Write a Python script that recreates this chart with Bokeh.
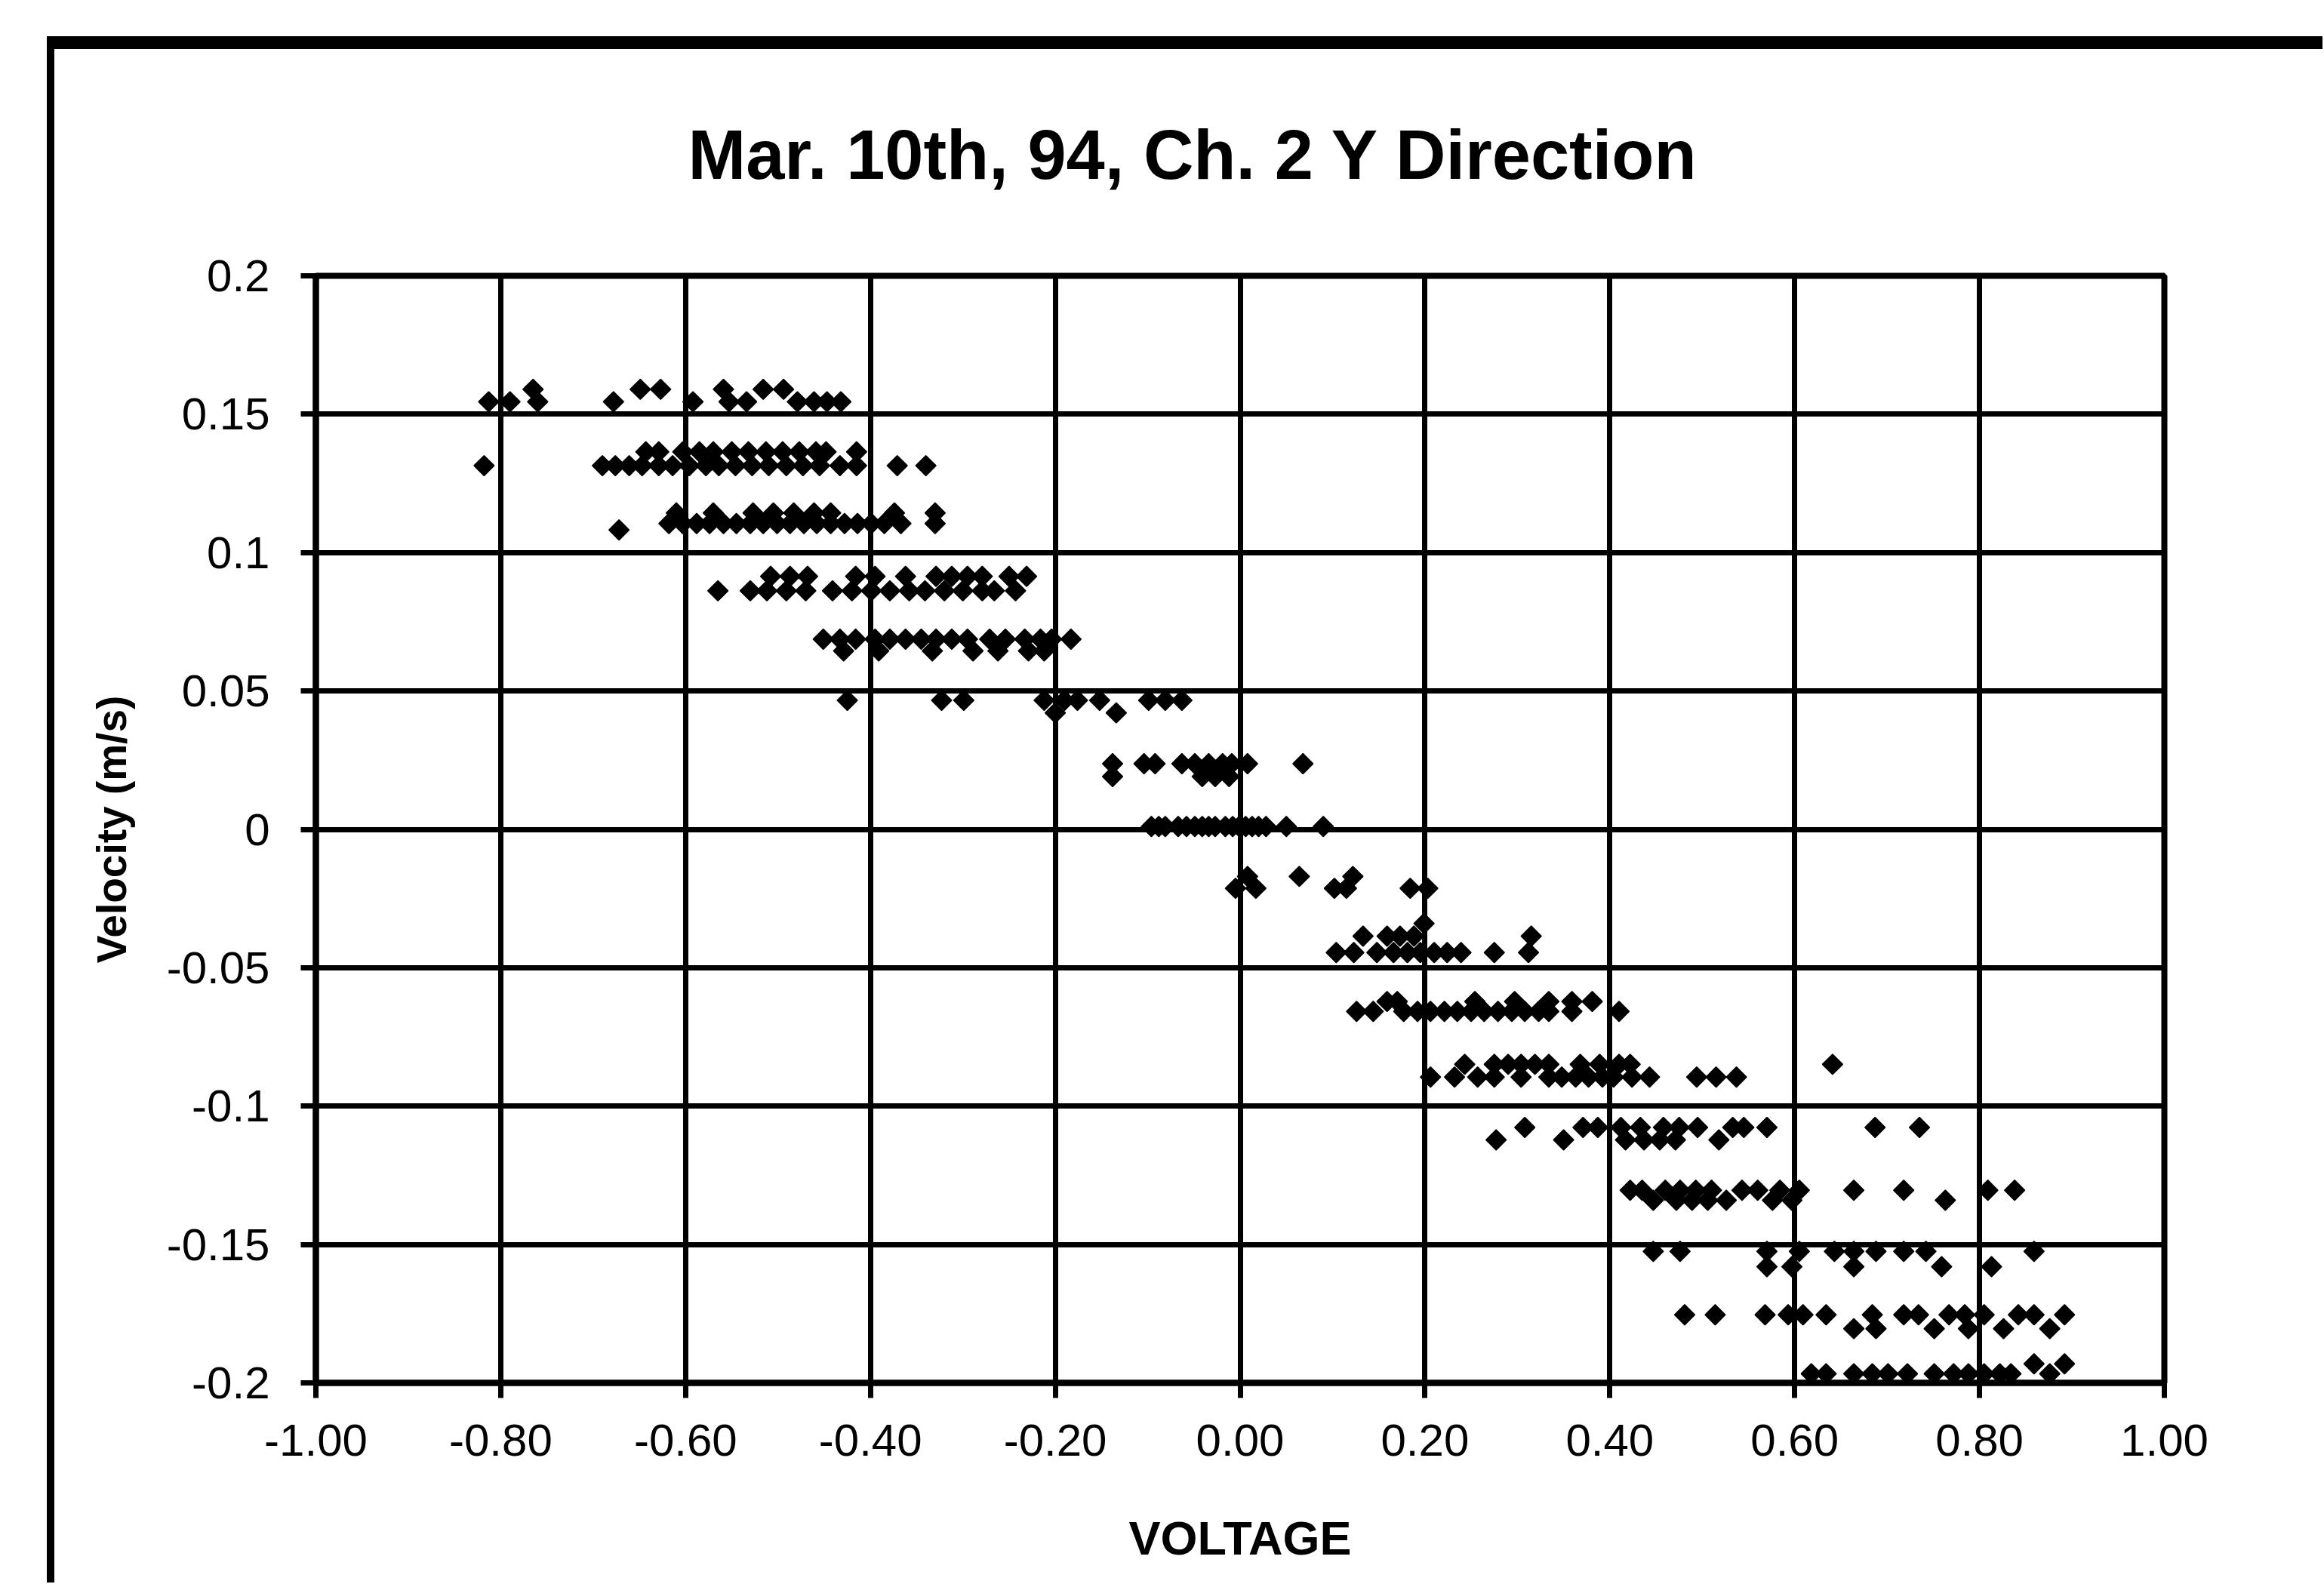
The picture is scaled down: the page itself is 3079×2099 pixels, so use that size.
import math
from bokeh.plotting import figure
from bokeh.models import FixedTicker, ColumnDataSource, Range1d, CustomJSTickFormatter
from bokeh.embed import file_html
from bokeh.resources import INLINE

TITLE = "Mar. 10th, 94, Ch. 2 Y Direction"
X_LABEL = "VOLTAGE"
Y_LABEL = "Velocity (m/s)"

x_ticks = [-1.0, -0.8, -0.6, -0.4, -0.2, 0.0, 0.2, 0.4, 0.6, 0.8, 1.0]
x_tick_labels = ["-1.00", "-0.80", "-0.60", "-0.40", "-0.20", "0.00", "0.20", "0.40", "0.60", "0.80", "1.00"]
y_ticks = [-0.2, -0.15, -0.1, -0.05, 0.0, 0.05, 0.1, 0.15, 0.2]
y_tick_labels = ["-0.2", "-0.15", "-0.1", "-0.05", "0", "0.05", "0.1", "0.15", "0.2"]

# Voltages (V) of the points found at each velocity level (m/s)
lvl_p1590 = [-0.765, -0.649, -0.627, -0.559, -0.516, -0.494]
lvl_p1545 = [-0.813, -0.790, -0.760, -0.678, -0.592, -0.553, -0.534, -0.479, -0.461, -0.447, -0.432]
lvl_p1364 = [-0.643, -0.629, -0.603, -0.585, -0.570, -0.550, -0.532, -0.513, -0.495, -0.477, -0.459, -0.448, -0.415]
lvl_p1314 = [-0.818, -0.690, -0.676, -0.661, -0.647, -0.629, -0.614, -0.596, -0.578, -0.564, -0.546, -0.528,
             -0.510, -0.491, -0.473, -0.455, -0.433, -0.415, -0.371, -0.340]
lvl_p1143 = [-0.610, -0.570, -0.527, -0.505, -0.483, -0.461, -0.443, -0.374, -0.330]
lvl_p1105 = [-0.618, -0.603, -0.588, -0.574, -0.559, -0.545, -0.530, -0.516, -0.501, -0.487, -0.472, -0.458,
             -0.443, -0.428, -0.414, -0.399, -0.385, -0.367, -0.330]
lvl_p1082 = [-0.672]
lvl_p0914 = [-0.508, -0.487, -0.468, -0.416, -0.395, -0.362, -0.329, -0.312, -0.295, -0.279, -0.250, -0.231]
lvl_p0862 = [-0.565, -0.530, -0.512, -0.491, -0.470, -0.441, -0.420, -0.399, -0.379, -0.358, -0.341, -0.320,
             -0.300, -0.279, -0.266, -0.243]
lvl_p0687 = [-0.451, -0.433, -0.416, -0.395, -0.379, -0.362, -0.345, -0.329, -0.312, -0.295, -0.271, -0.254,
             -0.233, -0.216, -0.204, -0.183]
lvl_p0645 = [-0.429, -0.391, -0.333, -0.289, -0.262, -0.229, -0.212]
lvl_p0466 = [-0.425, -0.323, -0.299, -0.212, -0.190, -0.176, -0.152, -0.099, -0.081, -0.063]
lvl_p0421 = [-0.200, -0.134]
lvl_p0237 = [-0.138, -0.104, -0.092, -0.063, -0.049, -0.034, -0.019, -0.009, 0.008, 0.068]
lvl_p0191 = [-0.138, -0.041, -0.027, -0.012]
lvl_p0010 = [-0.096, -0.088, -0.081, -0.067, -0.058, -0.049, -0.041, -0.034, -0.027, -0.016, -0.008, -0.001,
             0.006, 0.013, 0.020, 0.028, 0.050, 0.090]
lvl_m0170 = [0.008, 0.064, 0.122]
lvl_m0213 = [-0.005, 0.017, 0.102, 0.115, 0.184, 0.203]
lvl_m0340 = [0.199]
lvl_m0386 = [0.133, 0.159, 0.173, 0.188, 0.315]
lvl_m0445 = [0.104, 0.123, 0.148, 0.166, 0.181, 0.195, 0.210, 0.224, 0.239, 0.275, 0.312]
lvl_m0622 = [0.159, 0.170, 0.254, 0.297, 0.334, 0.359, 0.381]
lvl_m0658 = [0.126, 0.144, 0.177, 0.192, 0.206, 0.221, 0.235, 0.250, 0.264, 0.279, 0.294, 0.308, 0.323, 0.334,
             0.359, 0.410]
lvl_m0849 = [0.243, 0.275, 0.290, 0.304, 0.319, 0.334, 0.368, 0.389, 0.410, 0.422, 0.641]
lvl_m0895 = [0.206, 0.232, 0.257, 0.275, 0.304, 0.334, 0.348, 0.363, 0.377, 0.392, 0.404, 0.424, 0.443, 0.494,
             0.515, 0.537]
lvl_m1077 = [0.308, 0.371, 0.387, 0.412, 0.433, 0.458, 0.475, 0.495, 0.533, 0.545, 0.570, 0.687, 0.735]
lvl_m1122 = [0.277, 0.350, 0.417, 0.437, 0.454, 0.471, 0.518]
lvl_m1304 = [0.422, 0.435, 0.460, 0.476, 0.493, 0.510, 0.543, 0.560, 0.584, 0.605, 0.664, 0.718, 0.809, 0.838]
lvl_m1340 = [0.447, 0.472, 0.489, 0.506, 0.526, 0.576, 0.597, 0.763]
lvl_m1525 = [0.447, 0.476, 0.570, 0.605, 0.643, 0.664, 0.688, 0.718, 0.742, 0.859]
lvl_m1580 = [0.570, 0.597, 0.664, 0.759, 0.813]
lvl_m1754 = [0.481, 0.514, 0.568, 0.593, 0.609, 0.634, 0.684, 0.718, 0.734, 0.767, 0.784, 0.805, 0.842, 0.859,
             0.892]
lvl_m1804 = [0.664, 0.688, 0.751, 0.788, 0.826, 0.876]
lvl_m1931 = [0.859, 0.892]
lvl_m1967 = [0.618, 0.634, 0.664, 0.684, 0.701, 0.722, 0.751, 0.772, 0.788, 0.805, 0.822, 0.834, 0.876]

levels = [
    (0.1590, lvl_p1590), (0.1545, lvl_p1545), (0.1364, lvl_p1364), (0.1314, lvl_p1314),
    (0.1143, lvl_p1143), (0.1105, lvl_p1105), (0.1082, lvl_p1082), (0.0914, lvl_p0914),
    (0.0862, lvl_p0862), (0.0687, lvl_p0687), (0.0645, lvl_p0645), (0.0466, lvl_p0466),
    (0.0421, lvl_p0421), (0.0237, lvl_p0237), (0.0191, lvl_p0191), (0.0010, lvl_p0010),
    (-0.0170, lvl_m0170), (-0.0213, lvl_m0213), (-0.0340, lvl_m0340), (-0.0386, lvl_m0386),
    (-0.0445, lvl_m0445), (-0.0622, lvl_m0622), (-0.0658, lvl_m0658), (-0.0849, lvl_m0849),
    (-0.0895, lvl_m0895), (-0.1077, lvl_m1077), (-0.1122, lvl_m1122), (-0.1304, lvl_m1304),
    (-0.1340, lvl_m1340), (-0.1525, lvl_m1525), (-0.1580, lvl_m1580), (-0.1754, lvl_m1754),
    (-0.1804, lvl_m1804), (-0.1931, lvl_m1931), (-0.1967, lvl_m1967),
]

xs, ys = [], []
for vel, volts in levels:
    for v in volts:
        xs.append(v)
        ys.append(vel)
src = ColumnDataSource(data=dict(voltage=xs, velocity=ys))

W, H = 3077, 2097
F_LEFT, F_RIGHT, F_TOP, F_BOTTOM = 418, 2867, 365, 1832
FONT = "Liberation Sans"

p = figure(width=W, height=H, output_backend="svg", toolbar_location=None,
           x_range=Range1d(-1, 1), y_range=Range1d(-0.2, 0.2),
           min_border_left=F_LEFT, min_border_right=W - F_RIGHT,
           min_border_top=F_TOP, min_border_bottom=H - F_BOTTOM)
# chart-area frame: heavy top and left edges, drawn behind a transparent canvas border
p.styles = {
    "background-color": "white",
    "background-image": "linear-gradient(#000, #000), linear-gradient(#000, #000)",
    "background-position": "62px 48px, 62px 48px",
    "background-size": "3020px 17px, 10px 2060px",
    "background-repeat": "no-repeat",
}
p.background_fill_color = "white"
p.border_fill_color = None
p.outline_line_color = "black"
p.outline_line_width = 8

p.title.text = TITLE
p.title.text_font = FONT
p.title.text_font_style = "bold"
p.title.text_font_size = "92px"
p.title.text_color = "black"
p.title.align = "left"
p.title.offset = 493
p.title.standoff = 220

def make_fmt(tvals, tlabels):
    return CustomJSTickFormatter(args=dict(tvals=tvals, tlabels=tlabels), code="""
        for (let i = 0; i < tvals.length; i++) {
            if (Math.abs(tvals[i] - tick) < 1e-9) { return tlabels[i]; }
        }
        return String(tick);
    """)

p.xaxis.ticker = FixedTicker(ticks=x_ticks)
p.yaxis.ticker = FixedTicker(ticks=y_ticks)
p.xaxis.formatter = make_fmt(x_ticks, x_tick_labels)
p.yaxis.formatter = make_fmt(y_ticks, y_tick_labels)

for ax in (p.xaxis[0], p.yaxis[0]):
    ax.axis_line_color = "black"
    ax.axis_line_width = 8
    ax.major_tick_line_color = "black"
    ax.major_tick_line_width = 7
    ax.major_tick_out = 20
    ax.major_tick_in = 0
    ax.minor_tick_line_color = None
    ax.major_label_text_font = FONT
    ax.major_label_text_font_size = "60px"
    ax.major_label_text_color = "black"
    ax.axis_label_text_font = FONT
    ax.axis_label_text_font_style = "bold"
    ax.axis_label_text_color = "black"

p.xaxis.axis_label = X_LABEL
p.xaxis.axis_label_text_font_size = "63px"
p.xaxis.major_label_standoff = 35
p.xaxis.axis_label_standoff = 71
p.yaxis.axis_label = Y_LABEL
p.yaxis.axis_label_text_font_size = "55px"
p.yaxis.major_label_standoff = 41
p.yaxis.axis_label_standoff = 39

for g in (p.xgrid[0], p.ygrid[0]):
    g.grid_line_color = "black"
    g.grid_line_width = 7
    g.grid_line_alpha = 1.0
p.xgrid.ticker = FixedTicker(ticks=x_ticks)
p.ygrid.ticker = FixedTicker(ticks=y_ticks)

p.scatter(x="voltage", y="velocity", source=src, marker="square", angle=math.pi / 4,
          size=19, fill_color="black", line_color="black", line_width=1.5)

open("out.html", "w").write(file_html(p, INLINE))
